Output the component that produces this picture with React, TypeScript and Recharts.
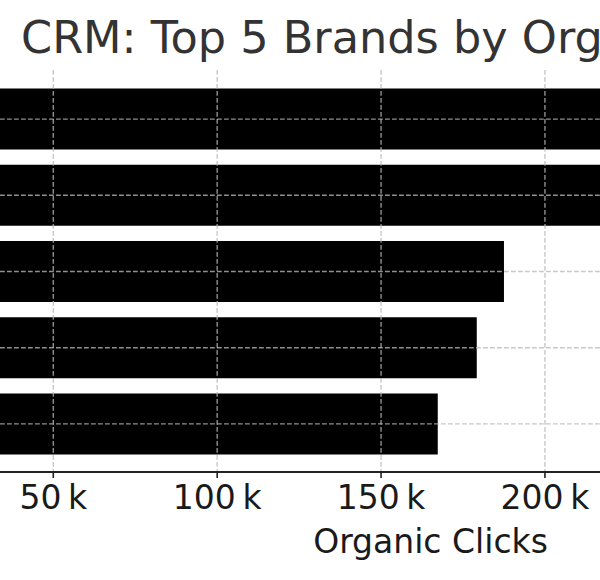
import React from "react";
import { BarChart, Bar, XAxis, YAxis, CartesianGrid } from "recharts";

const brands = ["Brand A", "Brand B", "Brand C", "Brand D", "Brand E"];
const clicks = [238000, 228000, 187500, 179200, 167300];
const xTicks = [50000, 100000, 150000, 200000];
const xDomain = [33740, 216800];

const data = brands.map((b, i) => ({ brand: b, clicks: clicks[i] }));

const FONT = "'DejaVu Sans', sans-serif";

export default function App() {
  return (
    <div style={{ position: "absolute", left: 0, top: 0, width: 600, height: 580, background: "#fff" }}>
      <BarChart
        width={600}
        height={580}
        data={data}
        layout="vertical"
        margin={{ top: 70, right: 0, bottom: 0, left: 0 }}
        barCategoryGap="10%"
      >
        <XAxis
          type="number"
          dataKey="clicks"
          domain={xDomain}
          allowDataOverflow
          ticks={xTicks}
          height={108}
          tickFormatter={(v: number) => `${v / 1000}\u2009k`}
          tick={{ fontSize: 33, fill: "#1a1a1a", fontFamily: FONT }}
          tickSize={6}
          tickMargin={8}
          axisLine={{ stroke: "#222", strokeWidth: 1.8 }}
          tickLine={{ stroke: "#222", strokeWidth: 1.6 }}
        />
        <YAxis type="category" dataKey="brand" hide padding={{ top: 11, bottom: 10 }} />
        <Bar dataKey="clicks" fill="#000" isAnimationActive={false} />
        <CartesianGrid
          stroke="#b9b9b9"
          strokeOpacity={0.78}
          strokeDasharray="4.8 2.2"
          strokeWidth={1.4}
          syncWithTicks
          zIndex={400}
        />
      </BarChart>
      <svg
        width={600}
        height={580}
        style={{ position: "absolute", left: 0, top: 0, pointerEvents: "none" }}
      >
        <text x={21} y={53} fontSize={44.6} fill="#333" fontFamily={FONT}>
          CRM: Top 5 Brands by Organic Clicks
        </text>
        <text x={430.5} y={552.5} fontSize={33} fill="#1a1a1a" fontFamily={FONT} textAnchor="middle">
          Organic Clicks
        </text>
      </svg>
    </div>
  );
}
